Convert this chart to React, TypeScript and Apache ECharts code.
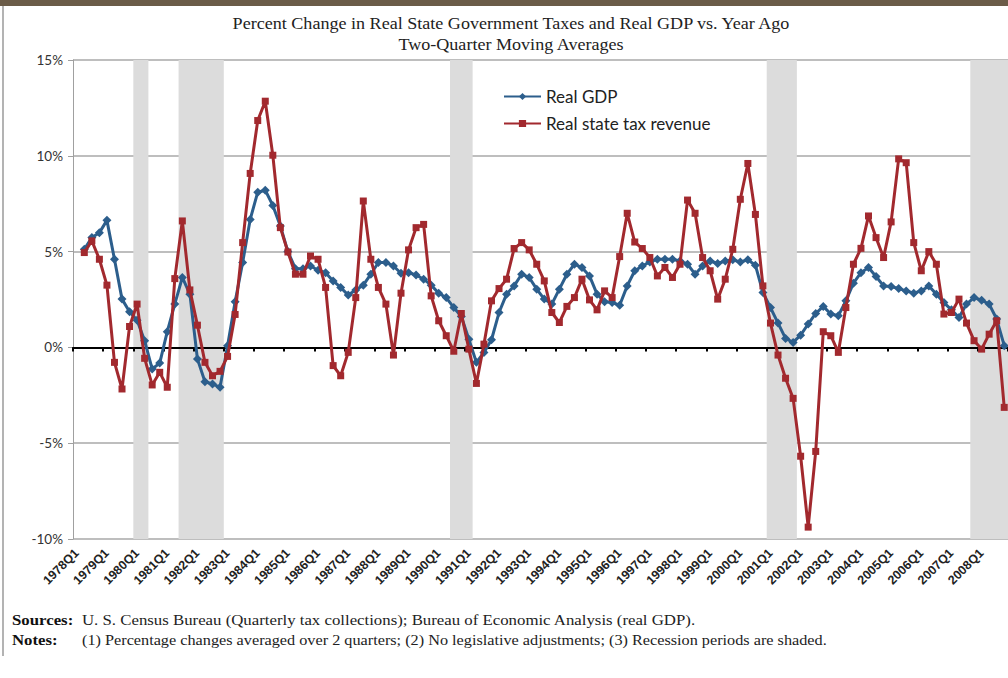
import React, { useEffect, useRef } from "react";
import * as echarts from "echarts";

// Quarterly categories 1978Q1 .. 2008Q4
const firstYear = 1978;
const lastYear = 2008;
const quarters: string[] = [];
for (let y = firstYear; y <= lastYear; y++) {
  for (let q = 1; q <= 4; q++) quarters.push(`${y}Q${q}`);
}

// Recession periods (shaded), first and last quarter of each
const recessions: [string, string][] = [
  ["1980Q1", "1980Q2"],
  ["1981Q3", "1982Q4"],
  ["1990Q3", "1991Q1"],
  ["2001Q1", "2001Q4"],
  ["2007Q4", "2008Q4"],
];

// Real GDP, % change vs year ago (two-quarter moving average)
const gdpGrowth: (number | null)[] = [
  null, 5.12, 5.73, 5.99, 6.63, 4.6, 2.52, 1.86, // 1978-79
  1.42, 0.35, -1.13, -0.82, 0.82, 2.26, 3.65, 2.78, // 1980-81
  -0.6, -1.79, -1.91, -2.08, 0.09, 2.38, 4.43, 6.68, // 1982-83
  8.1, 8.2, 7.41, 6.34, 5.0, 4.11, 4.1, 4.25, // 1984-85
  4.03, 3.9, 3.47, 3.13, 2.73, 3.0, 3.25, 3.82, // 1986-87
  4.43, 4.43, 4.25, 3.87, 3.9, 3.78, 3.56, 3.25, // 1988-89
  2.83, 2.6, 2.08, 1.61, 0.43, -0.78, -0.26, 0.4, // 1990-91
  1.82, 2.78, 3.21, 3.82, 3.65, 3.04, 2.52, 2.26, // 1992-93
  3.04, 3.82, 4.34, 4.17, 3.73, 2.78, 2.38, 2.34, // 1994-95
  2.2, 3.21, 4.0, 4.25, 4.46, 4.6, 4.6, 4.6, // 1996-97
  4.51, 4.34, 3.82, 4.25, 4.51, 4.38, 4.51, 4.57, // 1998-99
  4.46, 4.57, 4.29, 2.86, 2.08, 1.27, 0.47, 0.26, // 2000-01
  0.64, 1.22, 1.77, 2.14, 1.74, 1.65, 2.43, 3.35, // 2002-03
  3.9, 4.17, 3.7, 3.21, 3.18, 3.07, 2.95, 2.83, // 2004-05
  2.95, 3.21, 2.78, 2.34, 1.96, 1.56, 2.26, 2.6, // 2006-07
  2.46, 2.26, 1.48, 0.09, // 2008
];

// Real state tax revenue, % change vs year ago (two-quarter moving average)
const taxGrowth: (number | null)[] = [
  null, 4.95, 5.56, 4.6, 3.25, -0.78, -2.17, 1.09, // 1978-79
  2.26, -0.57, -1.96, -1.3, -2.08, 3.59, 6.6, 3.0, // 1980-81
  1.16, -0.78, -1.48, -1.25, -0.47, 1.72, 5.47, 9.08, // 1982-83
  11.84, 12.85, 10.03, 6.25, 4.98, 3.82, 3.82, 4.77, // 1984-85
  4.6, 3.13, -0.95, -1.48, -0.26, 2.6, 7.64, 4.6, // 1986-87
  3.13, 2.26, -0.4, 2.83, 5.09, 6.25, 6.42, 2.69, // 1988-89
  1.39, 0.61, -0.2, 1.77, -0.09, -1.88, 0.17, 2.43, // 1990-91
  3.07, 3.56, 5.16, 5.47, 5.09, 4.34, 3.47, 1.82, // 1992-93
  1.3, 2.14, 2.6, 3.56, 2.48, 1.96, 2.95, 2.6, // 1994-95
  4.74, 7.0, 5.5, 5.16, 4.69, 3.73, 4.17, 3.65, // 1996-97
  4.34, 7.69, 7.0, 4.69, 4.0, 2.52, 3.56, 5.12, // 1998-99
  7.73, 9.6, 6.94, 3.21, 1.27, -0.4, -1.61, -2.66, // 2000-01
  -5.68, -9.38, -5.43, 0.82, 0.61, -0.26, 2.08, 4.34, // 2002-03
  5.17, 6.86, 5.73, 4.69, 6.55, 9.84, 9.64, 5.47, // 2004-05
  4.0, 5.0, 4.34, 1.74, 1.82, 2.52, 1.27, 0.35, // 2006-07
  -0.09, 0.69, 1.39, -3.13, // 2008
];

const yMin = -10;
const yMax = 15;
const yStep = 5;

const titleLine1 =
  "Percent Change in Real State Government Taxes and Real GDP vs. Year Ago";
const titleLine2 = "Two-Quarter Moving Averages";
const sourcesText =
  "U. S. Census Bureau (Quarterly tax collections); Bureau of Economic Analysis (real GDP).";
const notesText =
  "(1) Percentage changes averaged over 2 quarters; (2) No legislative adjustments; (3) Recession periods are shaded.";

const BLUE = "#2c5e8c";
const RED = "#a2292e";
const SHADE = "#dcdcdc";
const SERIF = "'Liberation Serif', 'Times New Roman', serif";
const SANS = "Lato, 'Liberation Sans', sans-serif";

export default function App() {
  const ref = useRef<HTMLDivElement>(null);

  useEffect(() => {
    if (!ref.current) return;
    const chart = echarts.init(ref.current, undefined, { renderer: "svg" });

    const recessionData = recessions.map(([a, b]) => [quarters.indexOf(a), quarters.indexOf(b)]);

    const option: any = {
      animation: false,
      backgroundColor: "#ffffff",
      grid: { left: 73, top: 60, bottom: 139, right: -4, containLabel: false },
      legend: {
        data: ["Real GDP", "Real state tax revenue"],
        orient: "vertical",
        left: 503,
        top: 88,
        padding: 0,
        itemWidth: 37,
        itemHeight: 9,
        itemGap: 10,
        textStyle: { fontFamily: SANS, fontSize: 17, color: "#222" },
      },
      xAxis: [
        {
          type: "category",
          data: quarters,
          position: "bottom",
          boundaryGap: true,
          axisLine: { show: false, onZero: false },
          axisTick: { show: false },
          splitLine: { show: false },
          axisLabel: {
            interval: 3,
            rotate: 45,
            margin: 12,
            fontSize: 12.5,
            fontWeight: "bold",
            color: "#222",
            fontFamily: "'Liberation Sans', Arial, sans-serif",
          },
        },
        {
          type: "category",
          data: quarters,
          position: "bottom",
          boundaryGap: true,
          z: 2,
          axisLine: { show: true, onZero: true, lineStyle: { color: "#000", width: 2 } },
          axisTick: { show: true, interval: 3, length: 4, lineStyle: { color: "#000", width: 2 } },
          axisLabel: { show: false },
          splitLine: { show: false },
        },
      ],
      yAxis: {
        type: "value",
        min: yMin,
        max: yMax,
        interval: yStep,
        axisLine: { show: true, lineStyle: { color: "#a0a0a0", width: 1 } },
        axisTick: { show: true, length: 5, lineStyle: { color: "#a0a0a0" } },
        splitLine: { show: true, lineStyle: { color: "#a8a8a8", width: 1.5 } },
        axisLabel: {
          formatter: "{value}%",
          margin: 10,
          fontSize: 13.5,
          color: "#333",
          fontFamily: SANS,
        },
      },
      series: [
        {
          type: "custom",
          name: "recessions",
          xAxisIndex: 0,
          silent: true,
          z: 1,
          data: recessionData,
          encode: { x: [0, 1] },
          renderItem: (params: any, api: any) => {
            const s = api.value(0);
            const e = api.value(1);
            const band = api.size([1, 0])[0];
            const p0 = api.coord([s, yMax]);
            const p1 = api.coord([e, yMin]);
            const x0 = p0[0] - band / 2;
            const x1 = p1[0] + band / 2;
            return {
              type: "rect",
              shape: { x: x0, y: p0[1], width: x1 - x0, height: p1[1] - p0[1] },
              style: { fill: SHADE },
            };
          },
        },
        {
          type: "line",
          name: "Real GDP",
          xAxisIndex: 0,
          data: gdpGrowth,
          symbol: "diamond",
          symbolSize: 9,
          showAllSymbol: true,
          z: 3,
          lineStyle: { color: BLUE, width: 3 },
          itemStyle: { color: BLUE },
        },
        {
          type: "line",
          name: "Real state tax revenue",
          xAxisIndex: 0,
          data: taxGrowth,
          symbol: "rect",
          symbolSize: 7,
          showAllSymbol: true,
          z: 4,
          lineStyle: { color: RED, width: 3 },
          itemStyle: { color: RED },
        },
      ],
      graphic: [
        { type: "rect", left: 0, top: 0, shape: { width: 1008, height: 6 }, style: { fill: "#6b5c48" }, silent: true },
        { type: "line", shape: { x1: 3, y1: 6, x2: 3, y2: 656 }, style: { stroke: "#9a9a9a", lineWidth: 1.5 }, silent: true },
        {
          type: "text",
          x: 511,
          y: 24,
          scaleX: 1.13,
          style: { text: titleLine1, font: `16px ${SERIF}`, fill: "#222", textAlign: "center", textVerticalAlign: "middle" },
        },
        {
          type: "text",
          x: 511,
          y: 45,
          scaleX: 1.13,
          style: { text: titleLine2, font: `16px ${SERIF}`, fill: "#222", textAlign: "center", textVerticalAlign: "middle" },
        },
        {
          type: "text",
          x: 12,
          y: 620,
          scaleX: 1.2,
          style: { text: "Sources:", font: `bold 14px ${SERIF}`, fill: "#111", textVerticalAlign: "middle" },
        },
        {
          type: "text",
          x: 82,
          y: 620,
          scaleX: 1.2,
          style: { text: sourcesText, font: `14px ${SERIF}`, fill: "#222", textVerticalAlign: "middle" },
        },
        {
          type: "text",
          x: 12,
          y: 640,
          scaleX: 1.2,
          style: { text: "Notes:", font: `bold 14px ${SERIF}`, fill: "#111", textVerticalAlign: "middle" },
        },
        {
          type: "text",
          x: 82,
          y: 640,
          scaleX: 1.16,
          style: { text: notesText, font: `14px ${SERIF}`, fill: "#222", textVerticalAlign: "middle" },
        },
      ],
    };

    chart.setOption(option);
    return () => chart.dispose();
  }, []);

  return (
    <div
      ref={ref}
      style={{ position: "absolute", left: 0, top: 0, width: 1008, height: 678, background: "#fff" }}
    />
  );
}
